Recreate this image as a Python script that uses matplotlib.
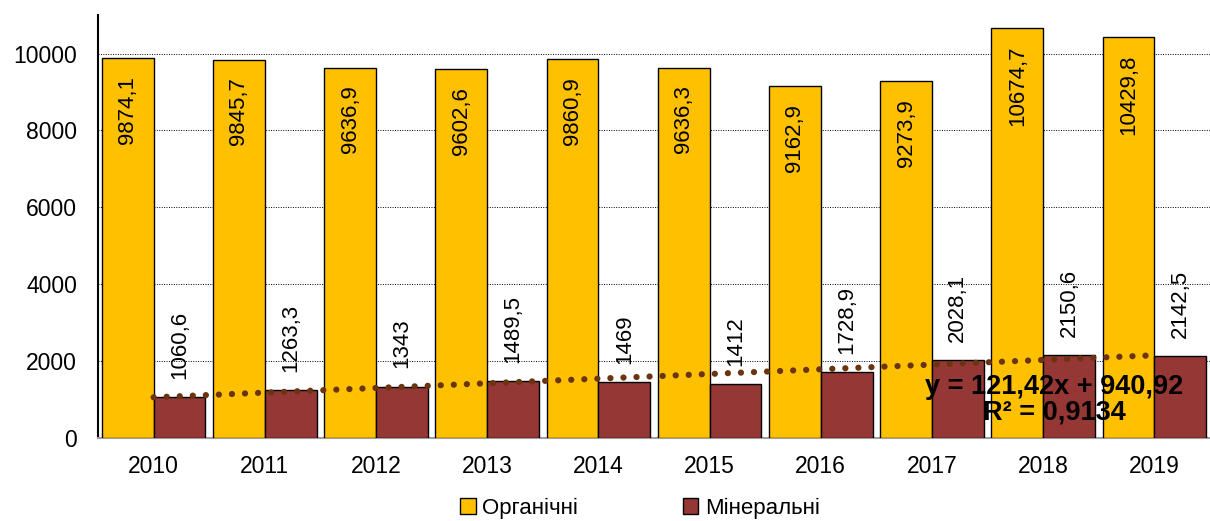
import matplotlib.pyplot as plt
import numpy as np

plt.rcParams['font.family'] = ['Liberation Sans', 'DejaVu Sans']

years = ['2010', '2011', '2012', '2013', '2014', '2015', '2016', '2017', '2018', '2019']
organic = [9874.1, 9845.7, 9636.9, 9602.6, 9860.9, 9636.3, 9162.9, 9273.9, 10674.7, 10429.8]
mineral = [1060.6, 1263.3, 1343, 1489.5, 1469, 1412, 1728.9, 2028.1, 2150.6, 2142.5]
trend_k, trend_b = 121.42, 940.92

C_ORG = "#FFC000"
C_MIN = "#953735"
C_TREND = "#6B3410"


def fmt(v):
    s = ('%.1f' % v).rstrip('0').rstrip('.')
    return s.replace('.', ',')


fig = plt.figure(figsize=(12.10, 5.21), dpi=100)
ax = fig.add_axes([0.081, 0.159, 0.919, 0.812])

x = np.arange(len(years))
w = 0.465
b1 = ax.bar(x - w / 2, organic, w, color=C_ORG, edgecolor='black', linewidth=1.0,
            label='Органічні', zorder=3)
b2 = ax.bar(x + w / 2, mineral, w, color=C_MIN, edgecolor='black', linewidth=1.0,
            label='Мінеральні', zorder=3)

for r, v in zip(b1, organic):
    ax.annotate(fmt(v), (r.get_x() + r.get_width() / 2, r.get_height()),
                xytext=(0, -13), textcoords='offset points', rotation=90,
                ha='center', va='top', fontsize=16, zorder=5)
for r, v in zip(b2, mineral):
    ax.annotate(fmt(v), (r.get_x() + r.get_width() / 2, r.get_height()),
                xytext=(0, 13), textcoords='offset points', rotation=90,
                ha='center', va='bottom', fontsize=16, zorder=5)

# linear trend of mineral series (Excel x = 1..10), drawn at category centres
tx = np.arange(1, len(years) + 1)
ax.plot(x, trend_k * tx + trend_b, linestyle=(0, (0.01, 2.08)), color=C_TREND,
        lw=4.5, dash_capstyle='round', solid_capstyle='round', zorder=4)
ax.text(8.1, 1000, 'y = 121,42x + 940,92\nR² = 0,9134', ha='center', va='center',
        fontsize=19.5, fontweight='bold', linespacing=1.0, zorder=6)

ax.set_xlim(-0.5, 9.5)
ax.set_ylim(0, 11000)
ax.set_yticks(range(0, 10001, 2000))
ax.set_xticks(x)
ax.set_xticklabels(years)
ax.tick_params(axis='both', labelsize=16.5, length=0)
ax.tick_params(axis='x', pad=12)
ax.tick_params(axis='y', pad=15)
ax.yaxis.grid(True, linestyle=(0, (1, 1.5)), color='black', lw=0.7, zorder=0)
ax.set_axisbelow(True)
for s in ['top', 'right']:
    ax.spines[s].set_visible(False)
ax.spines['left'].set_color('black')
ax.spines['left'].set_linewidth(1.5)
ax.spines['bottom'].set_color('#A0A0A0')
ax.spines['bottom'].set_linewidth(1.5)

fig.legend(handles=[b1, b2], loc='center', bbox_to_anchor=(0.529, 1 - 508 / 521), ncol=2,
           frameon=False, fontsize=16, handlelength=0.7, handleheight=0.7,
           handletextpad=0.3, columnspacing=4.7, borderpad=0)

fig.savefig('out.png', dpi=100)
